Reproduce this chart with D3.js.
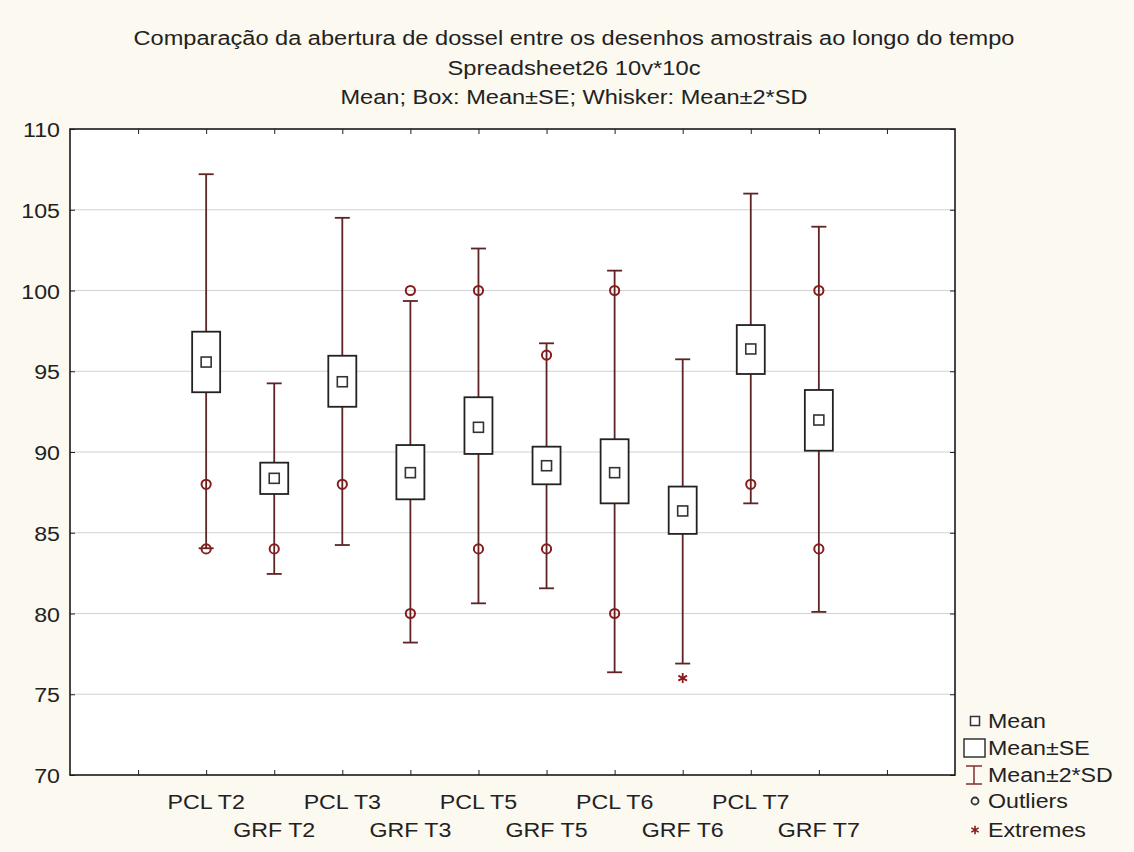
<!DOCTYPE html>
<html>
<head>
<meta charset="utf-8">
<script src="https://cdn.jsdelivr.net/npm/d3@7"></script>
<style>
  html, body { margin: 0; padding: 0; background: #fcf9f0; }
  svg { display: block; }
  text { font-family: "Liberation Sans", Arial, sans-serif; fill: #222; }
</style>
</head>
<body>
<svg id="chart" width="1134" height="852"></svg>
<script>
// ---- Data ----
const titleLines = [
  "Comparação da abertura de dossel entre os desenhos amostrais ao longo do tempo",
  "Spreadsheet26 10v*10c",
  "Mean; Box: Mean±SE; Whisker: Mean±2*SD"
];
const categories = ["PCL T2","GRF T2","PCL T3","GRF T3","PCL T5","GRF T5","PCL T6","GRF T6","PCL T7","GRF T7"];
const means  = [95.57, 88.37, 94.35, 88.72, 91.53, 89.15, 88.72, 86.35, 96.38, 91.98];
const seLow  = [93.70, 87.40, 92.80, 87.07, 89.88, 88.00, 86.82, 84.93, 94.83, 90.08];
const seHigh = [97.45, 89.34, 95.96, 90.43, 93.39, 90.33, 90.79, 87.86, 97.86, 93.84];
const sdLow  = [84.04, 82.45, 84.24, 78.20, 80.63, 81.56, 76.36, 76.90, 86.82, 80.10];
const sdHigh = [107.2, 94.25, 104.5, 99.35, 102.6, 96.73, 101.23, 95.74, 106.0, 103.95];
const outliers = [[88,84],[84],[88],[100,80],[100,84],[96,84],[100,80],[],[88],[100,84]];
const extremes = [[],[],[],[],[],[],[],[76],[],[]];
const yTicks = [70,75,80,85,90,95,100,105,110];
const legendLabels = ["Mean","Mean±SE","Mean±2*SD","Outliers","Extremes"];

// ---- Layout ----
const svg = d3.select("#chart");
const L = 70, R = 955, T = 129, B = 775;
const STRETCH = 1.16;
const lineCol = "#5e2424", boxCol = "#222", outCol = "#861c1c";

const x = d3.scaleLinear().domain([0, 13]).range([L, R]);
const xi = i => x(i + 2);
const y = d3.scaleLinear().domain([70, 110]).range([B, T]);

function stext(g, tx, ty, str, anchor, size) {
  return g.append("text")
    .attr("transform", `translate(${tx},${ty}) scale(${STRETCH},1)`)
    .attr("text-anchor", anchor)
    .style("font-size", size + "px")
    .text(str);
}

// Titles
const titleW = [881, 253, 467];
const titleY = [45, 75, 104];
titleLines.forEach((t, i) => {
  svg.append("text")
    .attr("x", 574).attr("y", titleY[i])
    .attr("text-anchor", "middle")
    .attr("textLength", titleW[i])
    .attr("lengthAdjust", "spacingAndGlyphs")
    .style("font-size", "20px")
    .text(t);
});

// Plot background
svg.append("rect").attr("x", L).attr("y", T).attr("width", R - L).attr("height", B - T)
  .attr("fill", "#ffffff");

// Gridlines
svg.append("g").selectAll("line")
  .data(yTicks.filter(v => v > 70 && v < 110))
  .join("line")
  .attr("x1", L).attr("x2", R)
  .attr("y1", d => y(d)).attr("y2", d => y(d))
  .attr("stroke", "#d2d2d2").attr("stroke-width", 1.2);

// Y axis labels (using d3 axis for ticks on both sides, inward)
const yAxisL = d3.axisLeft(y).tickValues(yTicks).tickSize(-5).tickFormat("");
svg.append("g").attr("transform", `translate(${L},0)`).call(yAxisL)
  .call(g => g.select(".domain").remove())
  .call(g => g.selectAll("line").attr("stroke", "#222"));
const yAxisR = d3.axisRight(y).tickValues(yTicks).tickSize(-5).tickFormat("");
svg.append("g").attr("transform", `translate(${R},0)`).call(yAxisR)
  .call(g => g.select(".domain").remove())
  .call(g => g.selectAll("line").attr("stroke", "#222"));
yTicks.forEach(v => stext(svg, 60, y(v) + 8, String(v), "end", 20));

// X ticks (top and bottom, inward)
const xTickVals = d3.range(1, 13);
const xAxisB = d3.axisBottom(x).tickValues(xTickVals).tickSize(-5).tickFormat("");
svg.append("g").attr("transform", `translate(0,${B})`).call(xAxisB)
  .call(g => g.select(".domain").remove())
  .call(g => g.selectAll("line").attr("stroke", "#222"));
const xAxisT = d3.axisTop(x).tickValues(xTickVals).tickSize(-5).tickFormat("");
svg.append("g").attr("transform", `translate(0,${T})`).call(xAxisT)
  .call(g => g.select(".domain").remove())
  .call(g => g.selectAll("line").attr("stroke", "#222"));

// Category labels (alternating rows)
categories.forEach((c, i) => {
  stext(svg, xi(i), i % 2 === 0 ? 809 : 837, c, "middle", 20);
});

// Box plots
const g = svg.append("g");
const boxW = 28, capW = 15, meanS = 10;
categories.forEach((c, i) => {
  const cx = xi(i);
  // whisker line
  g.append("line").attr("x1", cx).attr("x2", cx)
    .attr("y1", y(sdLow[i])).attr("y2", y(sdHigh[i]))
    .attr("stroke", lineCol).attr("stroke-width", 1.8);
  g.append("line").attr("x1", cx - capW/2).attr("x2", cx + capW/2)
    .attr("y1", y(sdHigh[i])).attr("y2", y(sdHigh[i]))
    .attr("stroke", lineCol).attr("stroke-width", 1.8);
  g.append("line").attr("x1", cx - capW/2).attr("x2", cx + capW/2)
    .attr("y1", y(sdLow[i])).attr("y2", y(sdLow[i]))
    .attr("stroke", lineCol).attr("stroke-width", 1.8);
  // SE box
  g.append("rect").attr("x", cx - boxW/2).attr("width", boxW)
    .attr("y", y(seHigh[i])).attr("height", y(seLow[i]) - y(seHigh[i]))
    .attr("fill", "#fff").attr("stroke", boxCol).attr("stroke-width", 1.8);
  // mean
  g.append("rect").attr("x", cx - meanS/2).attr("width", meanS)
    .attr("y", y(means[i]) - meanS/2).attr("height", meanS)
    .attr("fill", "#fff").attr("stroke", "#333").attr("stroke-width", 1.6);
  // outliers
  outliers[i].forEach(v => {
    g.append("circle").attr("cx", cx).attr("cy", y(v)).attr("r", 4.6)
      .attr("fill", "none").attr("stroke", outCol).attr("stroke-width", 2);
  });
  // extremes
  extremes[i].forEach(v => {
    g.append("path")
      .attr("d", d3.symbol().type(d3.symbolAsterisk || d3.symbolCross).size(70)())
      .attr("transform", `translate(${cx},${y(v)})`)
      .attr("fill", "none").attr("stroke", outCol).attr("stroke-width", 1.8);
  });
});

// Plot border
svg.append("rect").attr("x", L).attr("y", T).attr("width", R - L).attr("height", B - T)
  .attr("fill", "none").attr("stroke", "#1a1a1a").attr("stroke-width", 1.6);

// Legend
const legY = [721, 748, 775, 801, 830];
const lx = 975;
const leg = svg.append("g");
// Mean
leg.append("rect").attr("x", lx - 4.5).attr("y", legY[0] - 4.5).attr("width", 9).attr("height", 9)
  .attr("fill", "#fff").attr("stroke", "#333").attr("stroke-width", 1.5);
// Mean±SE
leg.append("rect").attr("x", lx - 11).attr("y", legY[1] - 9).attr("width", 21).attr("height", 18)
  .attr("fill", "#fff").attr("stroke", "#333").attr("stroke-width", 1.5);
// Mean±2*SD
leg.append("line").attr("x1", lx - 1).attr("x2", lx - 1).attr("y1", legY[2] - 9).attr("y2", legY[2] + 9)
  .attr("stroke", "#8a3a3a").attr("stroke-width", 1.6);
leg.append("line").attr("x1", lx - 9).attr("x2", lx + 7).attr("y1", legY[2] - 9).attr("y2", legY[2] - 9)
  .attr("stroke", "#8a3a3a").attr("stroke-width", 1.6);
leg.append("line").attr("x1", lx - 9).attr("x2", lx + 7).attr("y1", legY[2] + 9).attr("y2", legY[2] + 9)
  .attr("stroke", "#8a3a3a").attr("stroke-width", 1.6);
// Outliers
leg.append("circle").attr("cx", lx).attr("cy", legY[3]).attr("r", 3.5)
  .attr("fill", "none").attr("stroke", "#333").attr("stroke-width", 1.8);
// Extremes
leg.append("path")
  .attr("d", d3.symbol().type(d3.symbolAsterisk || d3.symbolCross).size(50)())
  .attr("transform", `translate(${lx},${legY[4]})`)
  .attr("fill", "none").attr("stroke", outCol).attr("stroke-width", 1.6);
legendLabels.forEach((t, i) => stext(leg, 988, legY[i] + 7, t, "start", 20));
</script>
</body>
</html>
